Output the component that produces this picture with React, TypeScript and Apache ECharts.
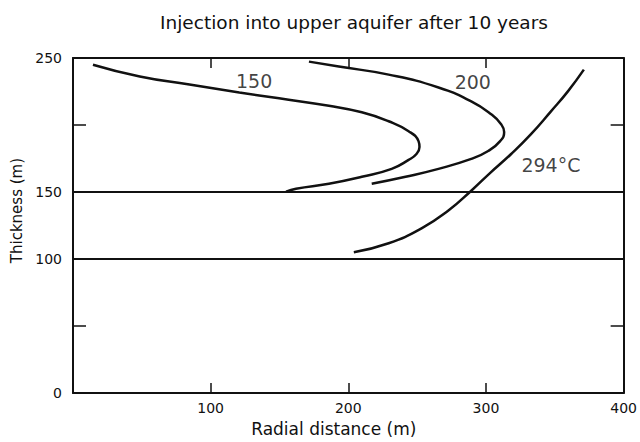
import React, { useEffect, useRef } from "react";
import * as echarts from "echarts";

const titleText = "Injection into upper aquifer after 10 years";
const xAxisName = "Radial distance (m)";
const yAxisName = "Thickness (m)";

const xRange = [0, 400];
const yRange = [0, 250];
const xTickStep = 100;
const yTickStep = 50;
const yLabelledValues = [0, 100, 150, 250];
const layerBoundaries = [150, 100];

// contour 150 °C  [radial distance m, thickness m]
const curve150: [number, number][] = [
  [14.5, 245.0], [48.5, 236.2], [84.6, 230.2], [120.8, 224.3], [149.7, 219.9],
  [185.9, 214.3], [209.8, 209.5], [229.3, 202.8], [243.8, 195.4], [251.0, 188.0],
  [251.7, 183.6], [249.5, 178.4], [243.8, 174.0], [231.5, 167.3], [209.8, 161.4],
  [185.9, 156.2], [162.0, 152.5], [154.8, 150.3],
];

// contour 200 °C
const curve200: [number, number][] = [
  [171.4, 247.3], [193.1, 243.6], [229.3, 237.6], [265.5, 228.0], [289.3, 217.6],
  [303.8, 208.0], [311.0, 200.6], [313.2, 194.7], [310.3, 188.0], [301.6, 180.6],
  [289.3, 174.7], [265.5, 167.3], [241.6, 161.4], [217.0, 156.2],
];

// contour 294 °C
const curve294: [number, number][] = [
  [371.1, 241.3], [359.5, 225.1], [347.2, 210.2], [332.7, 193.2], [318.3, 178.4],
  [303.1, 164.3], [289.3, 151.0], [272.7, 136.2], [253.2, 122.9], [229.3, 111.8],
  [204.0, 105.1],
];

const contourLabels = [
  { name: "150", value: [131.6, 232.5] },
  { name: "200", value: [290.4, 232.1] },
  { name: "294°C", value: [347.2, 169.9] },
];

const FONT = "DejaVu Sans";
const INK = "#111";

export default function App() {
  const ref = useRef<HTMLDivElement>(null);
  useEffect(() => {
    if (!ref.current) return;
    const chart = echarts.init(ref.current, null, { renderer: "svg" });
    const curveSeries = (name: string, data: [number, number][]) => ({
      name,
      type: "line",
      data,
      smooth: 0.5,
      showSymbol: false,
      symbol: "none",
      lineStyle: { color: INK, width: 2.5 },
      z: 3,
    });
    const axisLineStyle = { onZero: false, lineStyle: { color: INK, width: 2 } };
    const tickStyle = { color: INK, width: 1.5 };
    chart.setOption({
      animation: false,
      backgroundColor: "#fff",
      title: {
        text: titleText,
        left: 349,
        textAlign: "center",
        top: 8,
        textStyle: { fontFamily: FONT, fontSize: 18.5, fontWeight: "normal", color: INK },
      },
      grid: { left: 73, right: 14, top: 58, bottom: 46 },
      xAxis: [
        {
          type: "value",
          min: xRange[0],
          max: xRange[1],
          interval: xTickStep,
          position: "bottom",
          name: xAxisName,
          nameLocation: "middle",
          nameGap: 26,
          nameTextStyle: { fontFamily: FONT, fontSize: 17, color: INK, padding: [0, 29, 0, 0] },
          axisLine: { show: true, ...axisLineStyle },
          axisTick: { show: true, inside: true, length: 10, lineStyle: tickStyle },
          axisLabel: {
            fontFamily: FONT,
            fontSize: 14,
            color: INK,
            margin: 8,
            formatter: (v: number) => (v === 0 ? "" : String(v)),
          },
          splitLine: { show: false },
        },
        {
          type: "value",
          min: xRange[0],
          max: xRange[1],
          interval: xTickStep,
          position: "top",
          axisLine: { show: true, ...axisLineStyle },
          axisTick: { show: true, inside: true, length: 10, lineStyle: tickStyle },
          axisLabel: { show: false },
          splitLine: { show: false },
        },
      ],
      yAxis: [
        {
          type: "value",
          min: yRange[0],
          max: yRange[1],
          interval: yTickStep,
          position: "left",
          name: yAxisName,
          nameLocation: "middle",
          nameGap: 47,
          nameTextStyle: { fontFamily: FONT, fontSize: 15, color: INK, padding: [0, 0, 0, 30] },
          axisLine: { show: true, ...axisLineStyle },
          axisTick: { show: true, inside: true, length: 13, lineStyle: tickStyle },
          axisLabel: {
            fontFamily: FONT,
            fontSize: 14,
            color: INK,
            margin: 11,
            formatter: (v: number) => (yLabelledValues.includes(v) ? String(v) : ""),
          },
          splitLine: { show: false },
        },
        {
          type: "value",
          min: yRange[0],
          max: yRange[1],
          interval: yTickStep,
          position: "right",
          axisLine: { show: true, ...axisLineStyle },
          axisTick: { show: true, inside: true, length: 13, lineStyle: tickStyle },
          axisLabel: { show: false },
          splitLine: { show: false },
        },
      ],
      series: [
        {
          ...curveSeries("150", curve150),
          markLine: {
            silent: true,
            symbol: "none",
            label: { show: false },
            lineStyle: { color: INK, width: 2, type: "solid" },
            data: layerBoundaries.map((v) => ({ yAxis: v })),
          },
        },
        curveSeries("200", curve200),
        curveSeries("294", curve294),
        {
          name: "labels",
          type: "scatter",
          data: contourLabels,
          symbolSize: 0,
          itemStyle: { color: "transparent" },
          label: {
            show: true,
            position: "inside",
            formatter: (p: any) => p.name,
            fontFamily: FONT,
            fontSize: 19,
            color: INK,
          },
          z: 4,
        },
      ],
    });
    return () => chart.dispose();
  }, []);
  return (
    <div
      ref={ref}
      style={{ position: "fixed", left: 0, top: 0, width: 640, height: 442, background: "#fff" }}
    />
  );
}
